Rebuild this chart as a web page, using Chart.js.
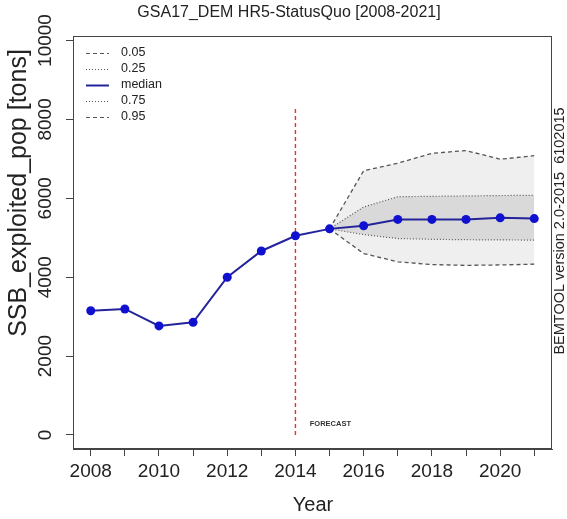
<!DOCTYPE html>
<html><head><meta charset="utf-8">
<script src="https://cdn.jsdelivr.net/npm/chart.js@4/dist/chart.umd.min.js"></script>
<style>html,body{margin:0;padding:0;background:#fff}canvas{display:block}</style>
</head><body>
<canvas id="c" width="567" height="519"></canvas>
<script>
// ---- data ----
const years = [2008,2009,2010,2011,2012,2013,2014,2015,2016,2017,2018,2019,2020,2021];
const median = [3150,3195,2765,2855,4000,4665,5050,5225,5305,5465,5465,5465,5505,5485];
const forecastYears = [2015,2016,2017,2018,2019,2020,2021];
const q05 = [5225,4600,4390,4320,4300,4310,4330];
const q25 = [5225,5080,4980,4960,4950,4945,4940];
const q75 = [5225,5780,6040,6050,6060,6070,6075];
const q95 = [5225,6700,6890,7140,7210,6990,7080];
const forecastYear = 2014;
const forecastLine = [0, 8300];
const xLabelYears = [2008,2010,2012,2014,2016,2018,2020];
const yTicks = [0,2000,4000,6000,8000,10000];
const legendLabels = ['0.05','0.25','median','0.75','0.95'];
const titleText = 'GSA17_DEM HR5-StatusQuo [2008-2021]';
const yTitle = 'SSB_exploited_pop [tons]';
const xTitle = 'Year';
const sideText = 'BEMTOOL version 2.0-2015  6102015';
const forecastText = 'FORECAST';
const forecastTextPos = {x: 2014.42, y: 270};

const FONT = '"Liberation Sans", Arial, sans-serif';
const pts = (xs, ys) => xs.map((x, i) => ({x, y: ys[i]}));
const DASH = [4, 3], DOT = [1, 2];
const GREY = '#555555', MED = '#24249a', PT = '#1010d0';

const extras = {
  id: 'extras',
  afterDraw(chart) {
    const ctx = chart.ctx, ca = chart.chartArea;
    const xs = chart.scales.x, ys = chart.scales.y;
    ctx.save();
    // box
    ctx.strokeStyle = '#444'; ctx.lineWidth = 1;
    ctx.strokeRect(Math.round(ca.left) + 0.5, Math.round(ca.top) + 0.5, Math.round(ca.right - ca.left) - 1, Math.round(ca.bottom - ca.top) - 1);
    ctx.fillStyle = '#222';
    // title
    ctx.font = '16px ' + FONT; ctx.textAlign = 'center'; ctx.textBaseline = 'middle';
    ctx.fillText(titleText, 289, 13);
    // y tick labels rotated
    ctx.font = '19px ' + FONT;
    yTicks.forEach(v => {
      ctx.save();
      ctx.translate(46, ys.getPixelForValue(v));
      ctx.rotate(-Math.PI / 2);
      ctx.textAlign = 'center'; ctx.textBaseline = 'middle';
      ctx.fillText(String(v), 0, 0);
      ctx.restore();
    });
    // y title
    ctx.save();
    ctx.font = '25px ' + FONT;
    ctx.translate(19, 193); ctx.rotate(-Math.PI / 2);
    ctx.textAlign = 'center'; ctx.textBaseline = 'middle';
    ctx.fillText(yTitle, 0, 0);
    ctx.restore();
    // x title
    ctx.font = '20px ' + FONT; ctx.textAlign = 'center'; ctx.textBaseline = 'middle';
    ctx.fillText(xTitle, 313, 505);
    // side text
    ctx.save();
    ctx.font = '14.5px ' + FONT;
    ctx.translate(560, 231); ctx.rotate(-Math.PI / 2);
    ctx.textAlign = 'center'; ctx.textBaseline = 'middle';
    ctx.fillText(sideText, 0, 0);
    ctx.restore();
    // forecast label
    ctx.font = 'bold 7.5px ' + FONT; ctx.fillStyle = '#333';
    ctx.textAlign = 'left'; ctx.textBaseline = 'middle';
    ctx.fillText(forecastText, xs.getPixelForValue(forecastTextPos.x), ys.getPixelForValue(forecastTextPos.y));
    // legend
    const styles = [
      {dash: DASH, color: GREY, w: 1.2},
      {dash: DOT, color: GREY, w: 1.2},
      {dash: [], color: MED, w: 2},
      {dash: DOT, color: GREY, w: 1.2},
      {dash: DASH, color: GREY, w: 1.2}
    ];
    ctx.font = '12.5px ' + FONT; ctx.fillStyle = '#222';
    legendLabels.forEach((lab, i) => {
      const y = 53 + i * 16;
      const s = styles[i];
      ctx.beginPath(); ctx.setLineDash(s.dash); ctx.strokeStyle = s.color; ctx.lineWidth = s.w;
      ctx.moveTo(86, y + 0.5); ctx.lineTo(109, y + 0.5); ctx.stroke();
      ctx.setLineDash([]);
      ctx.fillText(lab, 121, y);
    });
    ctx.restore();
  }
};

new Chart(document.getElementById('c'), {
  type: 'line',
  data: {
    datasets: [
      {label: 'median', data: pts(years, median), borderColor: MED, borderWidth: 2,
       pointRadius: 4.5, pointBackgroundColor: PT, pointBorderColor: PT, pointBorderWidth: 0, fill: false, tension: 0},
      {label: '0.75', data: pts(forecastYears, q75), borderColor: GREY, borderWidth: 1.2, borderDash: DOT,
       pointRadius: 0, fill: 2, backgroundColor: '#d9d9d9', tension: 0},
      {label: '0.25', data: pts(forecastYears, q25), borderColor: GREY, borderWidth: 1.2, borderDash: DOT,
       pointRadius: 0, fill: false, tension: 0},
      {label: '0.95', data: pts(forecastYears, q95), borderColor: GREY, borderWidth: 1.3, borderDash: DASH,
       pointRadius: 0, fill: 4, backgroundColor: '#efefef', tension: 0},
      {label: '0.05', data: pts(forecastYears, q05), borderColor: GREY, borderWidth: 1.3, borderDash: DASH,
       pointRadius: 0, fill: false, tension: 0},
      {label: 'forecast', data: pts([forecastYear, forecastYear], forecastLine), borderColor: '#ee2a3c',
       borderWidth: 1.4, borderDash: [4, 3], pointRadius: 0, fill: false, backgroundColor: '#ee2a3c'}
    ]
  },
  options: {
    responsive: false, animation: false, devicePixelRatio: 1,
    layout: {padding: {top: 36, right: 15, left: 0, bottom: 0}},
    plugins: {legend: {display: false}, tooltip: {enabled: false}, filler: {drawTime: 'beforeDatasetsDraw'}},
    scales: {
      x: {
        type: 'linear', min: 2007.48, max: 2021.52,
        afterBuildTicks: s => { s.ticks = years.map(v => ({value: v})); },
        afterFit: s => { s.height = 70; },
        ticks: {autoSkip: false, maxRotation: 0, minRotation: 0, padding: 4, color: '#222',
                font: {size: 19, family: FONT},
                callback: v => xLabelYears.includes(v) ? String(v) : ''},
        grid: {drawOnChartArea: false, drawTicks: true, tickLength: 7, color: '#444'},
        border: {display: true, color: '#444'}
      },
      y: {
        type: 'linear', min: -355, max: 10114,
        afterBuildTicks: s => { s.ticks = yTicks.map(v => ({value: v})); },
        afterFit: s => { s.width = 73; },
        ticks: {callback: () => '', padding: 0},
        grid: {drawOnChartArea: false, drawTicks: true, tickLength: 7, color: '#444'},
        border: {display: true, color: '#444'}
      }
    }
  },
  plugins: [extras]
});
</script>
</body></html>
